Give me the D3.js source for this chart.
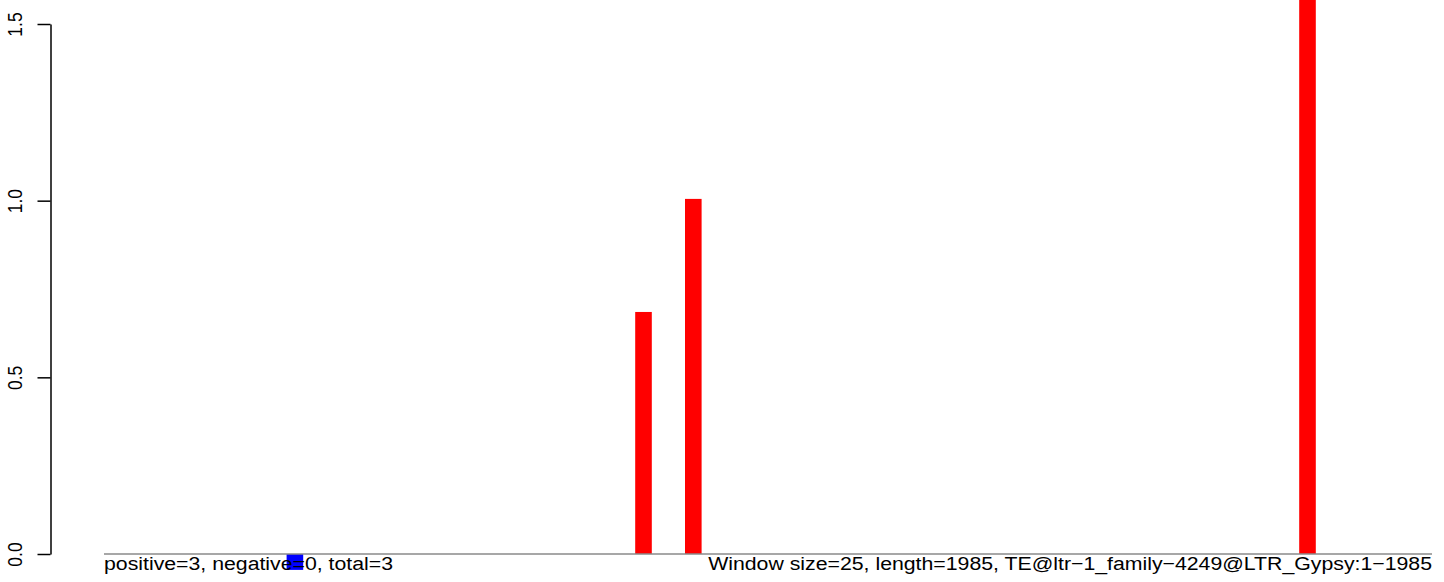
<!DOCTYPE html>
<html><head><meta charset="utf-8">
<script src="https://cdn.jsdelivr.net/npm/d3@7"></script>
<style>body{margin:0;background:#fff} svg{display:block}</style>
</head><body><svg id="c" width="1444" height="582"></svg>
<script>
const windowStarts = [275, 800, 875, 1800];
const windowValues = [-0.045, 0.685, 1.005, 1.62];
const barColors = ["#0000ff", "#ff0000", "#ff0000", "#ff0000"];
const yTicks = [0, 0.5, 1.0, 1.5];
const windowSize = 25;
const xMax = 2000;
const leftNote = "positive=3, negative=0, total=3";
const rightNote = "Window size=25, length=1985, TE@ltr\u22121_family\u22124249@LTR_Gypsy:1\u22121985";

const svg = d3.select("#c");
const font = "'Liberation Sans', Arial, sans-serif";
const noteStretch = 1.12;
const tickStretch = 1.2;
const x = d3.scaleLinear().domain([0, xMax]).range([104, 1432]);
const y = d3.scaleLinear().domain([0, 1.5]).range([554, 24]);

const data = windowStarts.map((s, i) => ({s, v: windowValues[i], c: barColors[i]}));

svg.append("g").selectAll("rect").data(data).join("rect")
  .attr("x", d => x(d.s))
  .attr("width", d => x(d.s + windowSize) - x(d.s))
  .attr("y", d => Math.min(y(d.v), y(0)))
  .attr("height", d => Math.abs(y(d.v) - y(0)))
  .attr("fill", d => d.c);

svg.append("line")
  .attr("x1", x(0)).attr("x2", x(xMax))
  .attr("y1", y(0)).attr("y2", y(0))
  .attr("stroke", "#8a8a8a").attr("stroke-width", 1.3);

const ax = svg.append("g").attr("transform", "translate(50.5,0)")
  .call(d3.axisLeft(y).tickValues(yTicks).tickFormat(d3.format(".1f")).tickSize(13).tickSizeOuter(0));
ax.select(".domain").attr("stroke", "#000").attr("stroke-width", 1.5);
ax.selectAll(".tick line").attr("stroke", "#000").attr("stroke-width", 1.5);
ax.selectAll(".tick text")
  .attr("x", null).attr("dy", null)
  .attr("transform", `translate(-28.5,0) rotate(-90) scale(1,${tickStretch})`)
  .attr("text-anchor", "middle")
  .attr("fill", "#000")
  .style("font-family", font).style("font-size", "17.5px");

svg.append("g").attr("transform", `translate(104,570) scale(${noteStretch},1)`)
  .append("text").attr("x", 0).attr("y", 0)
  .attr("font-family", font).attr("font-size", 19).attr("fill", "#000")
  .text(leftNote);
svg.append("g").attr("transform", `translate(1432,570) scale(${noteStretch},1)`)
  .append("text").attr("x", 0).attr("y", 0).attr("text-anchor", "end")
  .attr("font-family", font).attr("font-size", 19).attr("fill", "#000")
  .text(rightNote);
</script></body></html>
